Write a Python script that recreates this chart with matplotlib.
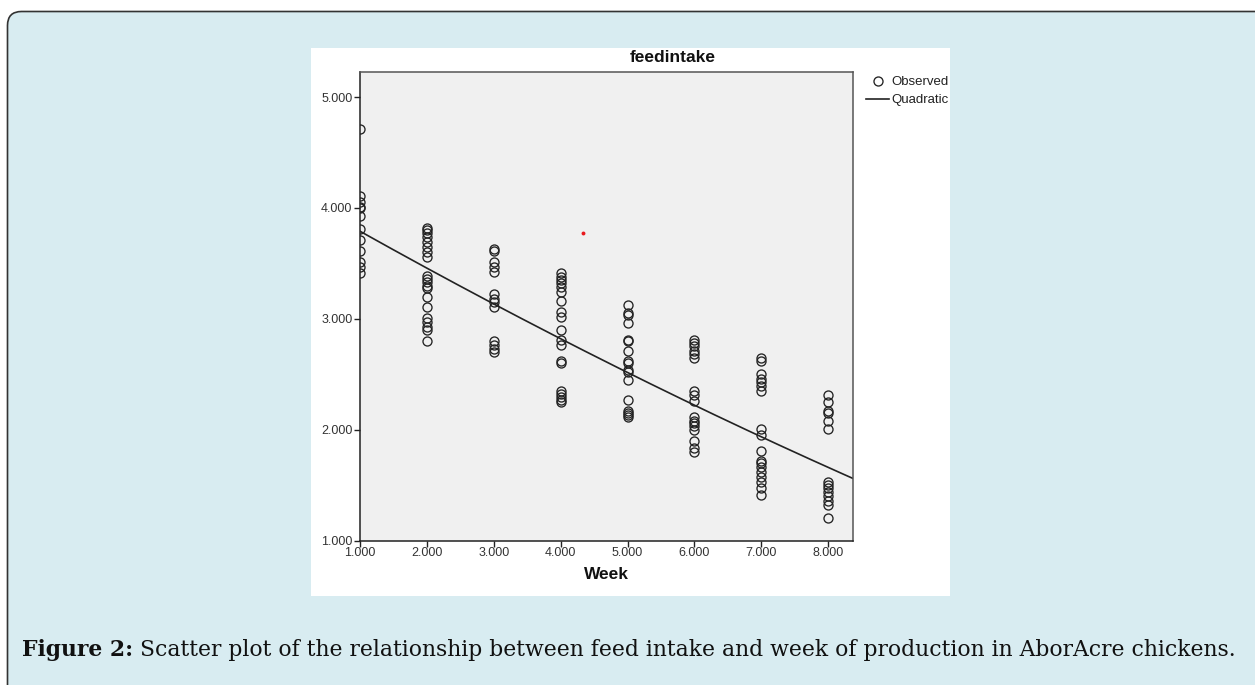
import numpy as np
import matplotlib
matplotlib.use("Agg")
import matplotlib.pyplot as plt
from matplotlib.patches import FancyBboxPatch, Rectangle
from matplotlib.ticker import FormatStrFormatter

# ---------------- data ----------------
weeks = [1, 2, 3, 4, 5, 6, 7, 8]
feed_w1 = [4.71, 4.11, 4.05, 4.01, 4.00, 3.93, 3.81, 3.71, 3.61, 3.51, 3.47, 3.41]
feed_w2 = [3.82, 3.80, 3.77, 3.74, 3.69, 3.65, 3.60, 3.56, 3.39, 3.36, 3.33, 3.30,
           3.28, 3.20, 3.11, 3.01, 2.97, 2.93, 2.90, 2.80]
feed_w3 = [3.63, 3.61, 3.51, 3.47, 3.42, 3.22, 3.18, 3.15, 3.11, 2.80, 2.76, 2.73, 2.70]
feed_w4 = [3.41, 3.38, 3.35, 3.32, 3.29, 3.24, 3.16, 3.06, 3.02, 2.90, 2.81, 2.76,
           2.62, 2.60, 2.35, 2.32, 2.29, 2.27, 2.25]
feed_w5 = [3.12, 3.05, 3.03, 2.96, 2.81, 2.80, 2.71, 2.62, 2.60, 2.54, 2.52, 2.45,
           2.27, 2.17, 2.15, 2.13, 2.11]
feed_w6 = [2.81, 2.78, 2.75, 2.71, 2.68, 2.65, 2.35, 2.31, 2.26, 2.11, 2.08, 2.06,
           2.03, 2.00, 1.90, 1.83, 1.80]
feed_w7 = [2.65, 2.62, 2.50, 2.46, 2.43, 2.39, 2.35, 2.01, 1.95, 1.81, 1.72, 1.70,
           1.66, 1.62, 1.57, 1.53, 1.47, 1.41]
feed_w8 = [2.31, 2.25, 2.17, 2.15, 2.08, 2.01, 1.53, 1.50, 1.47, 1.44, 1.40, 1.36,
           1.32, 1.20]
feed_by_week = [feed_w1, feed_w2, feed_w3, feed_w4, feed_w5, feed_w6, feed_w7, feed_w8]

# quadratic fit coefficients (intercept, linear, squared)
quad_coef = [4.132, -0.3471, 0.00475]

stray_x = [4.34]
stray_y = [3.77]

x_ticks = [1, 2, 3, 4, 5, 6, 7, 8]
y_ticks = [1, 2, 3, 4, 5]
title = "feedintake"
x_label = "Week"
legend_labels = ["Observed", "Quadratic"]
caption_bold = "Figure 2:"
caption_rest = " Scatter plot of the relationship between feed intake and week of production in AborAcre chickens."

# ---------------- figure ----------------
W, H = 1255, 685
fig = plt.figure(figsize=(W / 100, H / 100), dpi=100)
fig.patch.set_facecolor("white")

# background (pixel coordinates)
bg = fig.add_axes([0, 0, 1, 1], zorder=0)
bg.set_xlim(0, W)
bg.set_ylim(H, 0)
bg.axis("off")
bg.add_patch(FancyBboxPatch((7.5, 11.5), W + 40, H + 40,
                            boxstyle="round,pad=0,rounding_size=14",
                            facecolor="#d8ecf1", edgecolor="#333333", linewidth=1.2))
bg.add_patch(Rectangle((311, 48), 639, 548, facecolor="white", edgecolor="none"))

# main axes
left, right, top, bottom = 360, 853, 72, 540.5
ax = fig.add_axes([left / W, 1 - bottom / H, (right - left) / W, (bottom - top) / H], zorder=2)
ax.set_facecolor("#f0f0f0")

xs, ys = [], []
for wk, vals in zip(weeks, feed_by_week):
    xs.extend([wk] * len(vals))
    ys.extend(vals)
ax.plot(xs, ys, linestyle="none", marker="o", markersize=6.5,
        markerfacecolor="none", markeredgecolor="#222222", markeredgewidth=0.95,
        label=legend_labels[0], clip_on=True)

ax.set_xlim(1.0, 8.37)
ax.set_ylim(1.0, 5.226)
xc = np.linspace(1.0, 8.37, 200)
yc = quad_coef[0] + quad_coef[1] * xc + quad_coef[2] * xc ** 2
ax.plot(xc, yc, color="#222222", linewidth=1.2, label=legend_labels[1])

ax.plot(stray_x, stray_y, linestyle="none", marker="o", markersize=2.8,
        color="#e8181c", markeredgewidth=0)

ax.set_xticks(x_ticks)
ax.set_yticks(y_ticks)
ax.xaxis.set_major_formatter(FormatStrFormatter("%.3f"))
ax.yaxis.set_major_formatter(FormatStrFormatter("%.3f"))
ax.tick_params(axis="both", direction="out", length=4, width=1.0, color="#222222",
               labelsize=9, labelcolor="#333333", pad=1.5)
ax.tick_params(axis="x", pad=0.5)
for lab in ax.get_xticklabels() + ax.get_yticklabels():
    lab.set_fontfamily("Liberation Sans")
for s in ["left", "bottom"]:
    ax.spines[s].set_color("#222222")
    ax.spines[s].set_linewidth(1.1)
for s in ["top", "right"]:
    ax.spines[s].set_color("#555555")
    ax.spines[s].set_linewidth(1.1)

ax.set_xlabel(x_label, fontsize=12.5, fontweight="bold", family="Liberation Sans",
              color="#111111", labelpad=6)

fig.text(673 / W, 1 - 58 / H, title, ha="center", va="center", fontsize=12.5,
         fontweight="bold", family="Liberation Sans", color="#111111")

leg = ax.legend(loc="upper left", bbox_to_anchor=(866 / W, 1 - 76 / H),
                bbox_transform=fig.transFigure, frameon=False,
                handlelength=1.75, handletextpad=0.2, labelspacing=0.45,
                borderpad=0, borderaxespad=0, prop={"family": "Liberation Sans", "size": 9.5})
for t in leg.get_texts():
    t.set_color("#222222")

# caption
cap_y = 1 - 661 / H
t1 = fig.text(22 / W, cap_y, caption_bold, ha="left", va="bottom",
              fontsize=15.75, fontweight="bold", family="DejaVu Serif", color="#111111")
fig.canvas.draw()
bb = t1.get_window_extent()
fig.text(bb.x1 / W, cap_y, caption_rest, ha="left", va="bottom",
         fontsize=15.75, family="DejaVu Serif", color="#111111")

fig.savefig("out.png", dpi=100, facecolor=fig.get_facecolor())
